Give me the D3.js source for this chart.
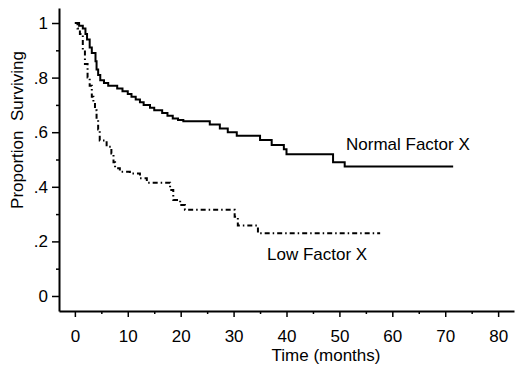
<!DOCTYPE html>
<html>
<head>
<meta charset="utf-8">
<script src="https://cdn.jsdelivr.net/npm/d3@7"></script>
<style>
  body { margin: 0; background: #fff; }
  text { font-family: "Liberation Sans", Arial, sans-serif; fill: #000; }
</style>
</head>
<body>
<svg width="520" height="370"></svg>
<script>
// Kaplan-Meier steps: time (months) and proportion after each drop
var normalTime = [0, 0.8, 1.5, 2.0, 2.3, 2.8, 3.2, 3.9, 4.1, 4.4, 4.8, 5.5, 6.3, 8.0, 9.0, 10.0, 10.7, 11.5, 12.3, 13.0, 14.2, 15.0, 16.5, 17.5, 18.5, 19.5, 20.5, 25.5, 27.4, 28.9, 30.6, 35.0, 37.2, 39.5, 40.0, 48.8, 51.0, 71.5];
var normalSurv = [1, 0.99, 0.98, 0.96, 0.94, 0.91, 0.89, 0.86, 0.83, 0.81, 0.79, 0.78, 0.77, 0.76, 0.75, 0.74, 0.73, 0.72, 0.71, 0.70, 0.69, 0.68, 0.67, 0.66, 0.65, 0.645, 0.64, 0.628, 0.614, 0.60, 0.587, 0.571, 0.553, 0.538, 0.519, 0.49, 0.474, 0.474];

var lowTime = [0, 0.5, 0.95, 1.5, 1.9, 2.4, 2.8, 3.2, 3.5, 3.8, 4.1, 4.4, 4.7, 6.0, 6.9, 7.3, 7.6, 8.5, 10.4, 12.3, 13.6, 18.0, 18.6, 19.9, 20.8, 30.2, 30.8, 34.6, 57.7];
var lowSurv = [1, 0.98, 0.96, 0.90, 0.85, 0.80, 0.77, 0.73, 0.71, 0.68, 0.645, 0.61, 0.57, 0.547, 0.522, 0.49, 0.468, 0.455, 0.449, 0.431, 0.415, 0.388, 0.352, 0.333, 0.316, 0.29, 0.258, 0.23, 0.23];

var xMajor = [0, 10, 20, 30, 40, 50, 60, 70, 80];
var xMinor = [5, 15, 25, 35, 45, 55, 65, 75];
var yMajor = [0, 0.2, 0.4, 0.6, 0.8, 1];
var yMinor = [0.1, 0.3, 0.5, 0.7, 0.9];
var yLabels = ["0", ".2", ".4", ".6", ".8", "1"];

var svg = d3.select("svg");

var x = d3.scaleLinear().domain([-3, 83]).range([59, 514]);
var y = d3.scaleLinear().domain([-0.055, 1.055]).range([311, 8]);

// axes: majors with labels, minors as short ticks
var xAxis = svg.append("g").attr("transform", "translate(0,311)")
  .call(d3.axisBottom(x).tickValues(xMajor).tickSize(6).tickSizeOuter(0).tickPadding(13));
svg.append("g").attr("transform", "translate(0,311)")
  .call(d3.axisBottom(x).tickValues(xMinor).tickSize(3).tickFormat(""))
  .select(".domain").remove();

var yAxis = svg.append("g").attr("transform", "translate(59,0)")
  .call(d3.axisLeft(y).tickValues(yMajor).tickSize(7).tickSizeOuter(0).tickPadding(4)
    .tickFormat(function (d, i) { return yLabels[i]; }));
svg.append("g").attr("transform", "translate(59,0)")
  .call(d3.axisLeft(y).tickValues(yMinor).tickSize(3).tickFormat(""))
  .select(".domain").remove();

svg.selectAll(".domain").attr("stroke", "#000").attr("stroke-width", 2);
svg.selectAll(".tick line").attr("stroke", "#000").attr("stroke-width", 1.5);
svg.selectAll(".tick text").style("font-size", "17px")
  .style("font-family", "'Liberation Sans', Arial, sans-serif").attr("fill", "#000");

// axis titles
svg.append("text")
  .attr("x", 326).attr("y", 361)
  .attr("text-anchor", "middle")
  .style("font-size", "17px")
  .text("Time (months)");

svg.append("text")
  .attr("transform", "translate(23,130)rotate(-90)")
  .attr("text-anchor", "middle")
  .style("font-size", "17px")
  .style("white-space", "pre")
  .text("Proportion  Surviving");

// survival curves
var line = d3.line()
  .x(function (d) { return x(d[0]); })
  .y(function (d) { return y(d[1]); })
  .curve(d3.curveStepAfter);

var normalData = normalTime.map(function (t, i) { return [t, normalSurv[i]]; });
var lowData = lowTime.map(function (t, i) { return [t, lowSurv[i]]; });

svg.append("path")
  .datum(normalData)
  .attr("d", line)
  .attr("fill", "none")
  .attr("stroke", "#000")
  .attr("stroke-width", 2);

svg.append("path")
  .datum(lowData)
  .attr("d", line)
  .attr("fill", "none")
  .attr("stroke", "#000")
  .attr("stroke-width", 2)
  .attr("stroke-dasharray", "5,3,1.5,3");

// curve labels
svg.append("text")
  .attr("x", 346).attr("y", 150)
  .style("font-size", "17px")
  .text("Normal Factor X");

svg.append("text")
  .attr("x", 267).attr("y", 260)
  .style("font-size", "17px")
  .text("Low Factor X");
</script>
</body>
</html>
